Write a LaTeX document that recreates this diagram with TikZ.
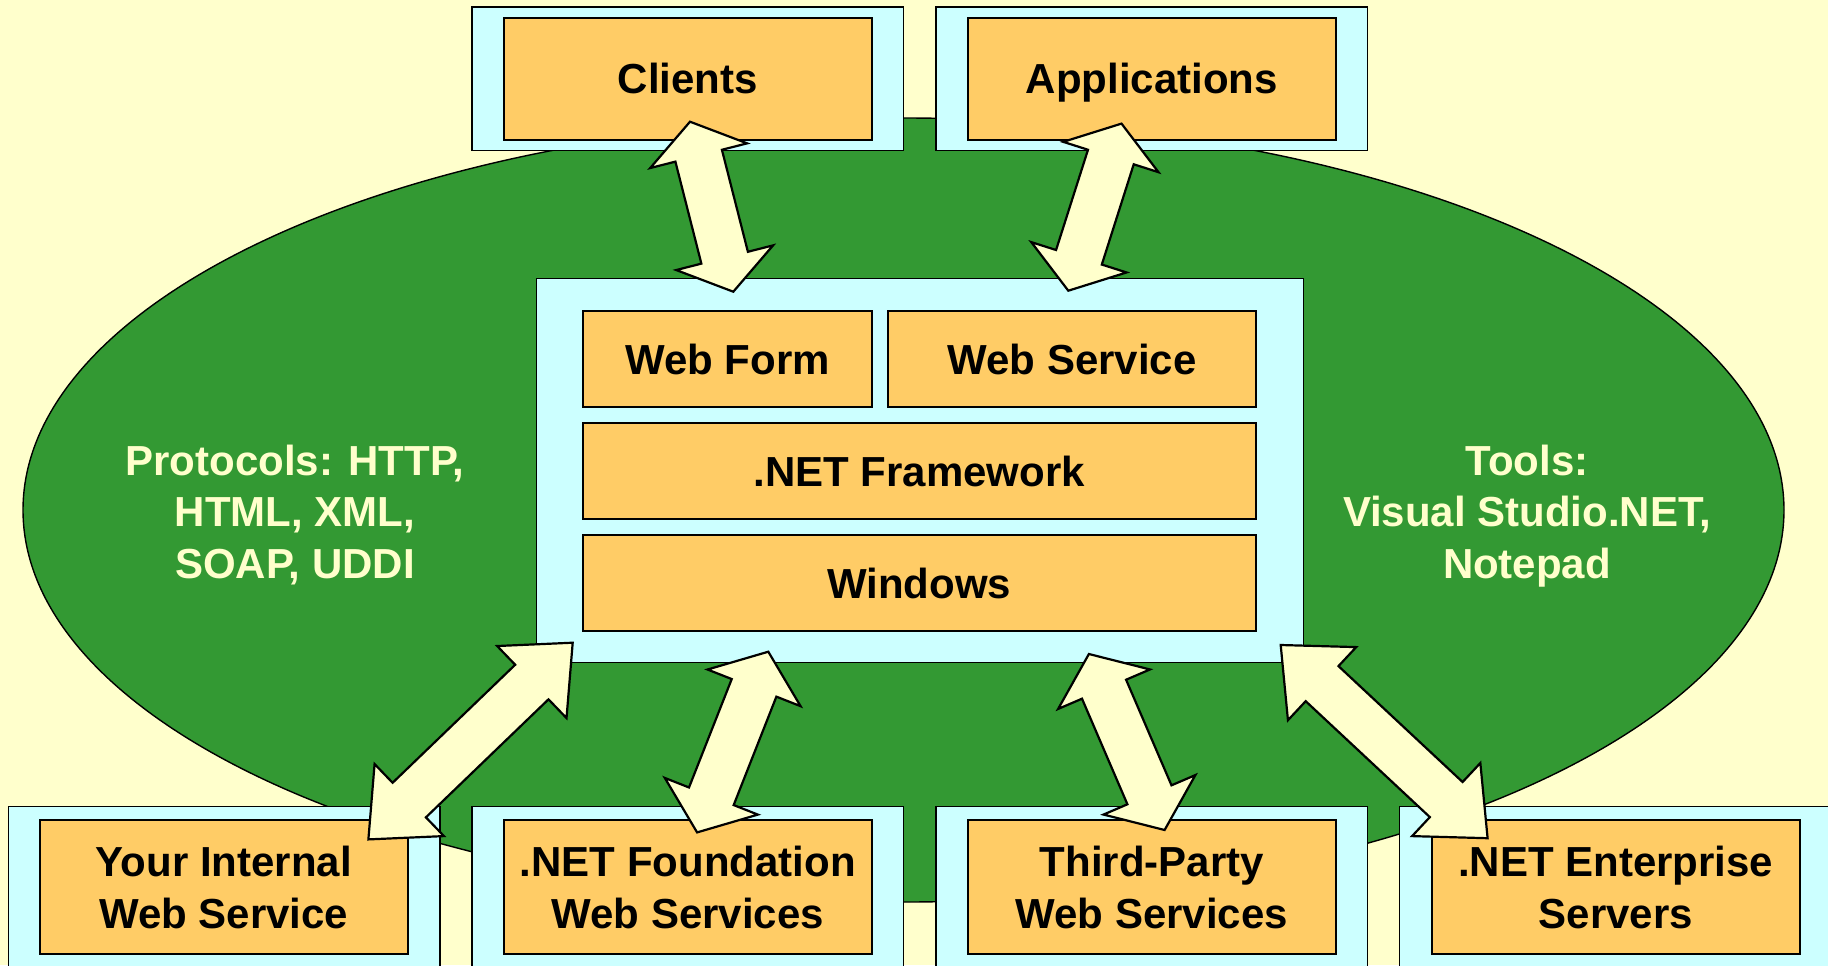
\documentclass[tikz,border=0pt]{standalone}
\usepackage{fontspec}
\setmainfont{Liberation Sans}
\usetikzlibrary{calc}
\definecolor{bgc}{HTML}{FFFFCC}
\definecolor{greenc}{HTML}{339933}
\definecolor{cyanbox}{HTML}{CCFFFF}
\definecolor{orangebox}{HTML}{FFCC66}
\newcommand{\biarrow}[2]{%
 \filldraw[arrowbody] (#1)
 -- ($(#1)!0.2!(#2)!25pt!90:(#2)$)
 -- ($(#1)!0.2!(#2)!12pt!90:(#2)$)
 -- ($(#2)!0.2!(#1)!12pt!-90:(#1)$)
 -- ($(#2)!0.2!(#1)!25pt!-90:(#1)$)
 -- (#2)
 -- ($(#2)!0.2!(#1)!25pt!90:(#1)$)
 -- ($(#2)!0.2!(#1)!12pt!90:(#1)$)
 -- ($(#1)!0.2!(#2)!12pt!-90:(#2)$)
 -- ($(#1)!0.2!(#2)!25pt!-90:(#2)$)
 -- cycle;}
\begin{document}
\begin{tikzpicture}[x=0.5pt,y=-0.5pt,
 outerbox/.style={draw=black, line width=0.7pt, fill=cyanbox, inner sep=0pt},
 innerbox/.style={draw=black, line width=1pt, fill=orangebox, inner sep=0pt, align=center,
   font=\bfseries\fontsize{21pt}{26pt}\selectfont},
 oneline/.style={text height=15.2pt, text depth=0pt},
 topouter/.style={outerbox, minimum width=215.75pt, minimum height=71.7pt},
 topinner/.style={innerbox, oneline, minimum width=184.2pt, minimum height=61.2pt},
 botouter/.style={outerbox, minimum width=215.75pt, minimum height=101.65pt},
 botinner/.style={innerbox, text depth=0pt, minimum width=184.2pt, minimum height=67pt},
 layer/.style={innerbox, oneline, minimum height=47.8pt},
 cloudtext/.style={text=bgc, align=center, inner sep=0pt, text depth=0pt,
   font=\bfseries\fontsize{21pt}{25.8pt}\selectfont},
 arrowbody/.style={fill=bgc, draw=black, line width=1.1pt, line join=miter}]
\useasboundingbox (0,0) rectangle (1828,965);
\clip (0,0) rectangle (1828,965);
\fill[bgc] (0,0) rectangle (1828,965);
\draw[fill=greenc, line width=0.7pt] (903.5,510) ellipse [x radius=440.25pt, y radius=196pt];
% top boxes
\node[topouter] (clientsO) at (687.8,78.7) {};
\node[topinner] (clients) at (687.8,78.7) {Clients};
\node[topouter] (appsO) at (1151.8,78.7) {};
\node[topinner] (apps) at (1151.8,78.7) {Applications};
% bottom boxes
\node[botouter] (intO) at (224.4,908.35) {};
\node[botinner] (int) at (223.8,887.3) {Your Internal\\Web Service};
\node[botouter] (fndO) at (687.8,908.35) {};
\node[botinner] (fnd) at (687.8,887.3) {.NET Foundation\\Web Services};
\node[botouter] (tpO) at (1151.8,908.35) {};
\node[botinner] (tp) at (1151.8,887.3) {Third-Party\\Web Services};
\node[botouter] (entO) at (1615.5,908.35) {};
\node[botinner] (ent) at (1615.8,887.3) {.NET Enterprise\\Servers};
% central stack
\node[outerbox, minimum width=383.55pt, minimum height=191.8pt] (core) at (919.9,470.4) {};
\node[layer, minimum width=144.55pt] (webform) at (727.5,359.1) {Web Form};
\node[layer, minimum width=183.65pt] (websvc) at (1072,359.1) {Web Service};
\node[layer, minimum width=336.35pt] (netfw) at (919.3,471) {.NET Framework};
\node[layer, minimum width=336.35pt] (win) at (919.3,582.9) {Windows};
% ellipse labels
\node[cloudtext] (protocols) at (295,511.5) {Protocols: HTTP,\\HTML, XML,\\SOAP, UDDI};
\node[cloudtext] (tools) at (1527,511.5) {Tools:\\Visual Studio.NET,\\Notepad};
% arrow tips
\coordinate (clA) at (690,121.7);
\coordinate (clB) at (733.3,291.7);
\coordinate (apA) at (1121.5,123.6);
\coordinate (apB) at (1068.3,290.7);
\coordinate (inA) at (572.7,642.7);
\coordinate (inB) at (368.4,839.4);
\coordinate (fnA) at (768.3,651.7);
\coordinate (fnB) at (697.1,832.4);
\coordinate (tpA) at (1088.9,654);
\coordinate (tpB) at (1164.6,830);
\coordinate (enA) at (1280.7,645);
\coordinate (enB) at (1487.6,838.2);
\biarrow{clA}{clB}
\biarrow{apA}{apB}
\biarrow{inA}{inB}
\biarrow{fnA}{fnB}
\biarrow{tpA}{tpB}
\biarrow{enA}{enB}
\end{tikzpicture}
\end{document}
